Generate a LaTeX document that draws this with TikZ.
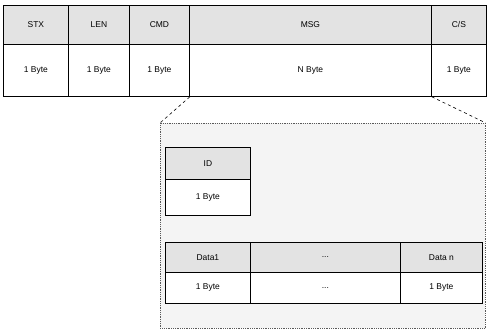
\documentclass[tikz,border=0pt]{standalone}
\usepackage{fontspec}
\setmainfont{Liberation Sans}
\begin{document}
\begin{tikzpicture}[x=1bp,y=-1bp,
  cell/.style={draw=black,line width=0.8bp,inner sep=0pt,font=\fontsize{8.5}{10}\selectfont,anchor=north west},
  hdr/.style={cell,fill=gray!22},
  val/.style={cell,fill=white},
  zoombox/.style={draw=gray!70!black,densely dotted,line width=0.8bp,fill=gray!9,inner sep=0pt,anchor=north west},
  link/.style={draw=black,dashed,line width=0.6bp}]
\useasboundingbox (0,0) rectangle (488,329);
% top frame
\node[hdr,minimum width=65bp,minimum height=39bp] (stx) at (3,5) {STX};
\node[hdr,minimum width=61bp,minimum height=39bp] (len) at (68,5) {LEN};
\node[hdr,minimum width=60bp,minimum height=39bp] (cmd) at (129,5) {CMD};
\node[hdr,minimum width=242bp,minimum height=39bp] (msg) at (189,5) {MSG};
\node[hdr,minimum width=55bp,minimum height=39bp] (cs) at (431,5) {C/S};
\node[val,minimum width=65bp,minimum height=52bp] (stxb) at (3,44) {1 Byte};
\node[val,minimum width=61bp,minimum height=52bp] (lenb) at (68,44) {1 Byte};
\node[val,minimum width=60bp,minimum height=52bp] (cmdb) at (129,44) {1 Byte};
\node[val,minimum width=242bp,minimum height=52bp] (msgb) at (189,44) {N Byte};
\node[val,minimum width=55bp,minimum height=52bp] (csb) at (431,44) {1 Byte};
% expanded message
\node[zoombox,minimum width=325bp,minimum height=205bp] (zoom) at (160,123) {};
\draw[link] (cmdb.south east) -- (zoom.north west);
\draw[link] (msgb.south east) -- (zoom.north east);
\node[hdr,minimum width=85bp,minimum height=32bp] (id) at (165,147) {ID};
\node[val,minimum width=85bp,minimum height=36bp] (idb) at (165,179) {1 Byte};
\node[hdr,minimum width=85bp,minimum height=30bp] (d1) at (165,242) {Data1};
\node[hdr,minimum width=150bp,minimum height=30bp] (dm) at (250,242) {...};
\node[hdr,minimum width=82bp,minimum height=30bp] (dn) at (400,242) {Data n};
\node[val,minimum width=85bp,minimum height=31bp] (d1b) at (165,272) {1 Byte};
\node[val,minimum width=150bp,minimum height=31bp] (dmb) at (250,272) {...};
\node[val,minimum width=82bp,minimum height=31bp] (dnb) at (400,272) {1 Byte};
\end{tikzpicture}
\end{document}
